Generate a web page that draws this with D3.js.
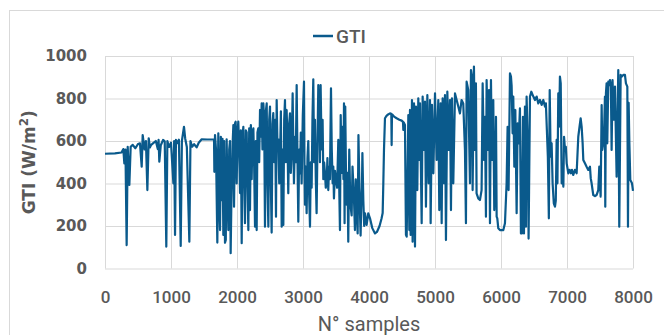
<!DOCTYPE html>
<html>
<head>
<meta charset="utf-8">
<script src="https://cdn.jsdelivr.net/npm/d3@7"></script>
<style>
  body { margin: 0; background: #fff; }
  svg { display: block; }
</style>
</head>
<body>
<div id="chart"></div>
<script>
// GTI readings, [sample index, W/m2]
const gtiStart = [[0,540],[150,542],[250,546],[278,562],[293,495],[310,560],[328,110],[344,573],[369,393],[389,573],[420,582],[460,566],[500,586],[530,589],[556,479],[571,628],[600,560],[620,600],[642,369],[662,613],[680,570],[700,582],[740,592],[770,600],[800,562],[812,605],[823,503],[845,580],[880,605],[905,598],[929,103],[945,600],[970,572],[1000,592],[1036,401],[1048,600],[1061,158],[1075,605],[1100,590],[1120,606],[1147,106],[1165,600],[1197,667],[1215,612],[1240,572],[1278,126],[1295,600],[1320,573],[1350,585],[1389,570],[1420,592],[1465,608],[1550,607],[1652,608]];

const gtiMorning = [[1657,455],[1667,628],[1682,560],[1702,122],[1717,636],[1730,300],[1743,181],[1755,620],[1768,322],[1780,610],[1793,158],[1805,600],[1818,121],[1830,134],[1843,608],[1854,400],[1869,181],[1882,560],[1894,600],[1904,72],[1914,300],[1934,589],[1945,675],[1955,291],[1970,683],[1980,691],[1995,400],[2008,640],[2020,691],[2033,560],[2046,355],[2058,650],[2071,119],[2084,620],[2096,667],[2109,420],[2121,213],[2134,650],[2147,640],[2160,380],[2172,181],[2185,660],[2197,275],[2210,675],[2222,420],[2235,640],[2248,660],[2260,480],[2273,197],[2285,600],[2298,181],[2310,640],[2323,660],[2336,500],[2349,746],[2362,620],[2374,777],[2386,560],[2399,777],[2412,700],[2424,197],[2437,740],[2450,777],[2462,400],[2475,197],[2488,700],[2500,762],[2512,420],[2525,169],[2538,680],[2550,731],[2565,500],[2578,700],[2591,244],[2601,793],[2614,560],[2626,608],[2640,400],[2651,500],[2665,740],[2677,197],[2690,560]];

const gtiMidday = [[2702,205],[2715,700],[2727,793],[2740,500],[2752,746],[2765,600],[2777,354],[2790,680],[2803,730],[2815,450],[2828,542],[2843,824],[2853,600],[2863,401],[2878,620],[2890,500],[2904,863],[2917,500],[2929,220],[2942,560],[2954,448],[2967,640],[2979,400],[2997,720],[3015,879],[3022,500],[3030,300],[3042,480],[3055,260],[3068,520],[3080,600],[3093,350],[3106,197],[3118,500],[3131,380],[3143,700],[3156,890],[3168,500],[3181,700],[3194,420],[3206,260],[3220,600],[3232,863],[3240,650],[3247,780],[3257,500],[3267,863],[3282,560],[3297,700],[3308,420],[3320,500],[3333,448],[3345,380],[3358,400],[3370,520],[3383,369],[3395,480],[3408,420],[3424,848],[3436,560],[3449,401],[3459,480],[3469,330],[3484,460],[3499,420],[3517,380],[3535,605],[3548,400],[3560,181],[3571,722],[3585,450],[3600,667],[3613,420],[3621,777],[3630,213],[3640,762],[3650,480],[3661,300],[3674,450],[3686,126],[3701,560],[3712,380],[3722,290],[3737,250],[3750,480],[3762,400],[3775,300],[3787,181],[3800,420],[3812,290],[3828,165],[3840,628],[3860,300],[3873,155],[3883,300],[3893,380],[3900,543],[3914,320],[3927,200],[3939,260],[3964,205],[3989,260]];

const gtiClear = [[4015,236],[4050,190],[4091,165],[4120,172],[4160,200],[4190,235],[4207,261],[4217,400],[4227,558],[4242,707],[4265,718],[4290,725],[4318,730],[4338,728],[4343,581],[4348,726],[4380,715],[4419,707],[4460,700],[4495,696],[4515,690],[4520,652],[4525,688],[4545,675]];

const gtiAfternoon = [[4560,158],[4571,150],[4596,722],[4611,181],[4621,746],[4631,158],[4651,793],[4661,126],[4682,777],[4697,103],[4712,762],[4732,369],[4747,801],[4762,511],[4773,777],[4798,213],[4813,809],[4833,558],[4848,785],[4863,291],[4884,816],[4904,401],[4924,793],[4934,213],[4954,770],[4975,448],[5000,824],[5025,511],[5050,793],[5065,275],[5086,777],[5101,213],[5116,801],[5136,401],[5151,816],[5166,134],[5187,832],[5207,558],[5227,793],[5242,275],[5257,801],[5277,401],[5303,824],[5328,793],[5353,762],[5378,730]];

const gtiPeak = [[5403,793],[5428,777],[5454,558],[5469,213],[5479,879],[5504,840],[5530,401],[5545,934],[5560,903],[5570,369],[5590,950],[5605,558],[5620,871],[5630,354],[5656,330],[5681,322],[5706,369],[5722,871],[5742,511],[5757,714],[5772,244],[5782,887],[5803,558],[5818,840],[5833,213],[5848,887],[5863,511],[5883,793],[5898,275],[5909,385],[5924,714],[5934,244],[5944,236],[5959,189],[5984,181],[6010,181],[6035,181],[6060,213],[6085,401],[6100,667],[6115,369],[6136,918],[6151,903],[6161,860],[6176,636],[6186,809],[6202,479],[6217,746],[6237,260],[6252,683],[6267,589],[6287,754],[6302,165],[6317,165],[6333,714],[6348,165],[6363,762],[6378,197],[6388,809],[6408,558],[6418,141],[6439,809],[6459,832],[6490,809],[6515,793],[6540,809],[6565,777],[6590,793],[6616,770],[6641,793],[6666,762],[6680,777]];

const gtiEvening = [[6695,652],[6710,526],[6725,236],[6738,840],[6752,526],[6767,589],[6782,401],[6800,307],[6818,291],[6830,320],[6843,605],[6855,401],[6868,824],[6880,667],[6893,903],[6905,871],[6919,401],[6935,432],[6945,385],[6955,620],[6970,558],[6982,573],[6995,495],[7020,448],[7040,464],[7060,448],[7075,464],[7095,440],[7120,464],[7146,448],[7171,620],[7190,667],[7207,707],[7222,667],[7237,589],[7247,511],[7272,495],[7297,479],[7322,464],[7348,479],[7360,424],[7373,401],[7398,346],[7424,341],[7449,346],[7474,369],[7489,479],[7500,401],[7510,338],[7525,769],[7535,558],[7550,589],[7560,620],[7575,809],[7580,291],[7590,824],[7600,871],[7610,589],[7626,879],[7640,863],[7651,887],[7665,856],[7676,558],[7690,887],[7710,700],[7727,856],[7752,432],[7777,934],[7792,197],[7813,911],[7830,903],[7853,911],[7878,911],[7893,871],[7914,856],[7924,197],[7934,780],[7945,589],[7959,416],[7985,401],[8000,365]];

const xTicks = [0, 1000, 2000, 3000, 4000, 5000, 6000, 7000, 8000];
const yTicks = [0, 200, 400, 600, 800, 1000];
const seriesName = "GTI";
const xTitle = "N° samples";

const gti = [].concat(gtiStart, gtiMorning, gtiMidday, gtiClear, gtiAfternoon, gtiPeak, gtiEvening);

const width = 664, height = 335;
const plot = {left: 105, right: 633, top: 56, bottom: 268.5};
const lineColor = "#0a5a8c";
const gridColor = "#d9d9d9";
const textColor = "#595959";

const svg = d3.select("#chart").append("svg")
    .attr("width", width)
    .attr("height", height);

// chart area frame
svg.append("rect")
    .attr("x", 9.5).attr("y", 10.5)
    .attr("width", 700).attr("height", 400)
    .attr("fill", "none")
    .attr("stroke", gridColor);

const x = d3.scaleLinear().domain([0, 8000]).range([plot.left, plot.right]);
const y = d3.scaleLinear().domain([0, 1000]).range([plot.bottom, plot.top]);

// x axis + vertical grid
const xAxis = svg.append("g")
    .attr("transform", `translate(0,${plot.bottom})`)
    .call(d3.axisBottom(x).tickValues(xTicks).tickSize(-(plot.bottom - plot.top)).tickPadding(22.5).tickFormat(d3.format("d")));
xAxis.select(".domain").remove();
xAxis.selectAll("line").attr("stroke", gridColor);
xAxis.selectAll("text")
    .attr("fill", textColor)
    .style("font-family", "Roboto, sans-serif")
    .style("font-weight", 500)
    .style("font-size", "17px");

// y axis + horizontal grid
const yAxis = svg.append("g")
    .attr("transform", `translate(${plot.left},0)`)
    .call(d3.axisLeft(y).tickValues(yTicks).tickSize(-(plot.right - plot.left)).tickPadding(18).tickFormat(d3.format("d")));
yAxis.select(".domain").remove();
yAxis.selectAll("line").attr("stroke", gridColor);
yAxis.selectAll("text")
    .attr("fill", textColor)
    .style("font-family", "'DejaVu Sans', sans-serif")
    .style("font-weight", "bold")
    .style("font-size", "15px");

// the series
const line = d3.line()
    .x(d => x(d[0]))
    .y(d => y(d[1]));

svg.append("path")
    .datum(gti)
    .attr("d", line)
    .attr("fill", "none")
    .attr("stroke", lineColor)
    .attr("stroke-width", 2.2)
    .attr("stroke-linejoin", "round");

// axis titles
svg.append("text")
    .attr("x", (plot.left + plot.right) / 2)
    .attr("y", 331)
    .attr("text-anchor", "middle")
    .attr("fill", textColor)
    .style("font-family", "Roboto, sans-serif")
    .style("font-size", "20px")
    .text(xTitle);

const yTitle = svg.append("text")
    .attr("transform", `translate(35,${(plot.top + plot.bottom) / 2}) rotate(-90)`)
    .attr("text-anchor", "middle")
    .attr("fill", textColor)
    .style("font-family", "'DejaVu Sans', sans-serif")
    .style("font-weight", "bold")
    .style("font-size", "17px");
yTitle.append("tspan").text("GTI (W/m");
yTitle.append("tspan").attr("dy", -7).style("font-size", "12px").text("2");
yTitle.append("tspan").attr("dy", 7).text(")");

// legend
const legend = svg.append("g").attr("transform", "translate(313,36)");
legend.append("line")
    .attr("x1", 0).attr("x2", 20)
    .attr("stroke", lineColor)
    .attr("stroke-width", 2.5);
legend.append("text")
    .attr("x", 23).attr("y", 7)
    .attr("fill", textColor)
    .style("font-family", "Roboto, sans-serif")
    .style("font-weight", 500)
    .style("font-size", "19px")
    .text(seriesName);
</script>
</body>
</html>
